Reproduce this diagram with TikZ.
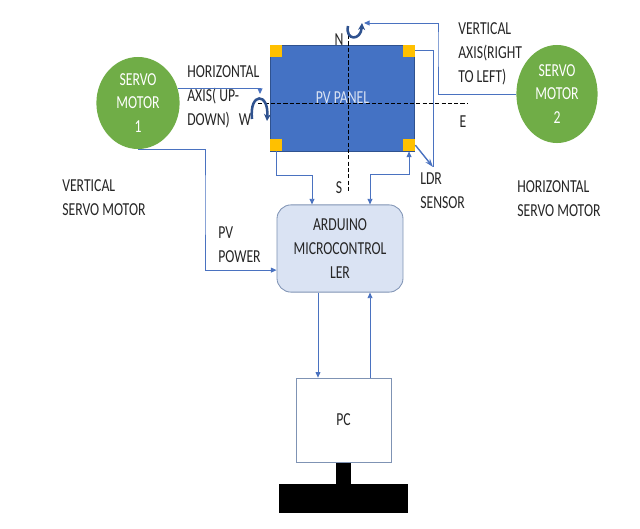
\documentclass[tikz,border=0pt]{standalone}
\usepackage{fontspec}
\setmainfont{Carlito}[FakeStretch=0.75]
\usetikzlibrary{arrows.meta,positioning,shapes.geometric}
\definecolor{PanelF}{HTML}{4472C4}
\definecolor{PanelD}{HTML}{2F528F}
\definecolor{Cell}{HTML}{FFC000}
\definecolor{Servo}{HTML}{70AD47}
\definecolor{CtrlF}{HTML}{DAE3F3}
\definecolor{CtrlD}{HTML}{7F93B4}
\definecolor{Wire}{HTML}{4A72C0}
\definecolor{Ink}{HTML}{262626}

\begin{document}
\begin{tikzpicture}[x=0.025cm,y=-0.025cm,font=\fontsize{13}{17}\selectfont,
    servo/.style={ellipse,fill=Servo,text=white,align=center,inner sep=0pt,
      minimum width=2.08cm,minimum height=2.3cm},
    panel/.style={draw=PanelD,fill=PanelF,text=CtrlF,line width=0.6pt,
      minimum width=3.62cm,minimum height=2.65cm},
    cell/.style={fill=Cell,minimum size=0.3cm,inner sep=0pt},
    ctrl/.style={draw=CtrlD,fill=CtrlF,rounded corners=0.35cm,align=center,text=Ink,
      minimum width=3.15cm,minimum height=2.18cm,line width=0.6pt},
    pcbox/.style={draw=CtrlD,fill=white,text=Ink,minimum width=2.38cm,minimum height=2.1cm,
      line width=0.5pt},
    stand/.style={fill=black,inner sep=0pt},
    lbl/.style={align=left,inner sep=0pt,text=Ink},
    axisln/.style={black,line width=0.7pt,dash pattern=on 3pt off 1.5pt},
    link/.style={Wire,line width=0.6pt},
    rot/.style={PanelD,line width=1.8pt,-{Stealth[length=5pt,width=5pt]}},
    sense/.style={Wire,line width=1pt,-{Stealth[length=6pt,width=4pt]}},
    >={Triangle[length=4pt,width=3.5pt]}]
  \useasboundingbox (0,0) rectangle (640,528);
  \node[servo] (sm1) at (138,103) {SERVO\\MOTOR\\1};
  \node[servo,minimum width=2.03cm,minimum height=2.45cm] (sm2) at (557,94) {SERVO\\MOTOR\\2};
  \node[panel] (pv) at (342.5,98) {PV PANEL};
  \foreach \a/\n in {north west/c1,north east/c2,south west/c3,south east/c4}
    \node[cell,anchor=\a] (\n) at (pv.\a) {};
  \draw[axisln] (348,35) -- (348,192);
  \draw[axisln] (258,103) -- (467,103);
  \node[lbl] (dN) at (339,40) {N};
  \node[lbl] (dS) at (339,188) {S};
  \node[lbl] (dW) at (245,120) {W};
  \node[lbl] (dE) at (463,122) {E};
  \draw[rot] (348,26) .. controls (345,41) and (361,41) .. (362,23);
  \draw[rot] (252,119) .. controls (249,92) and (269,92) .. (267,121);
  \node[lbl,anchor=west] (haxis) at (187,97) {HORIZONTAL\\AXIS( UP-\\DOWN)};
  \node[lbl,anchor=west] (vaxis) at (458,54) {VERTICAL\\AXIS(RIGHT\\TO LEFT)};
  \node[lbl,anchor=west] (vsm) at (62,198) {VERTICAL\\SERVO MOTOR};
  \node[lbl,anchor=west] (hsm) at (517,199) {HORIZONTAL\\SERVO MOTOR};
  \node[lbl,anchor=west] (ldr) at (420,191) {LDR\\SENSOR};
  \node[lbl,anchor=west] (pvp) at (218,245) {PV\\POWER};
  \node[ctrl] (ard) at (340,248.5) {ARDUINO\\MICROCONTROL\\LER};
  \node[pcbox] (pc) at (343.5,420) {PC};
  \node[stand,minimum width=0.375cm,minimum height=0.53cm,anchor=north] (stem) at (pc.south) {};
  \node[stand,minimum width=3.2cm,minimum height=0.72cm,anchor=north] (base) at (stem.south) {};
  \coordinate (nrot) at (364,23);
  \coordinate (wrot) at (260,94);
  \coordinate (ldrpt) at (433,167);
  \coordinate (a1) at ([xshift=-0.55cm]ard.south);
  \coordinate (a2) at ([xshift=0.75cm]ard.south);
  \draw[link,->] (sm2.west) -| (438,40) |- (nrot);
  \draw[link,->] (sm1.20) -| (wrot);
  \draw[link] (c2.east) -| (ldrpt);
  \draw[sense] (c4.east) -- (ldrpt);
  \draw[link,->] (sm1.south) -| (205,200) |- ([yshift=-0.54cm]ard.west);
  \draw[link,->] (c3.south) -- ++(0,24) -| ([xshift=-0.7cm]ard.north);
  \draw[link,<->] ([xshift=0.75cm]ard.north) -- ++(0,-30) -| (c4.south);
  \draw[link,->] (a1) -- (a1 |- pc.north);
  \draw[link,->] (a2 |- pc.north) -- (a2);
\end{tikzpicture}
\end{document}
